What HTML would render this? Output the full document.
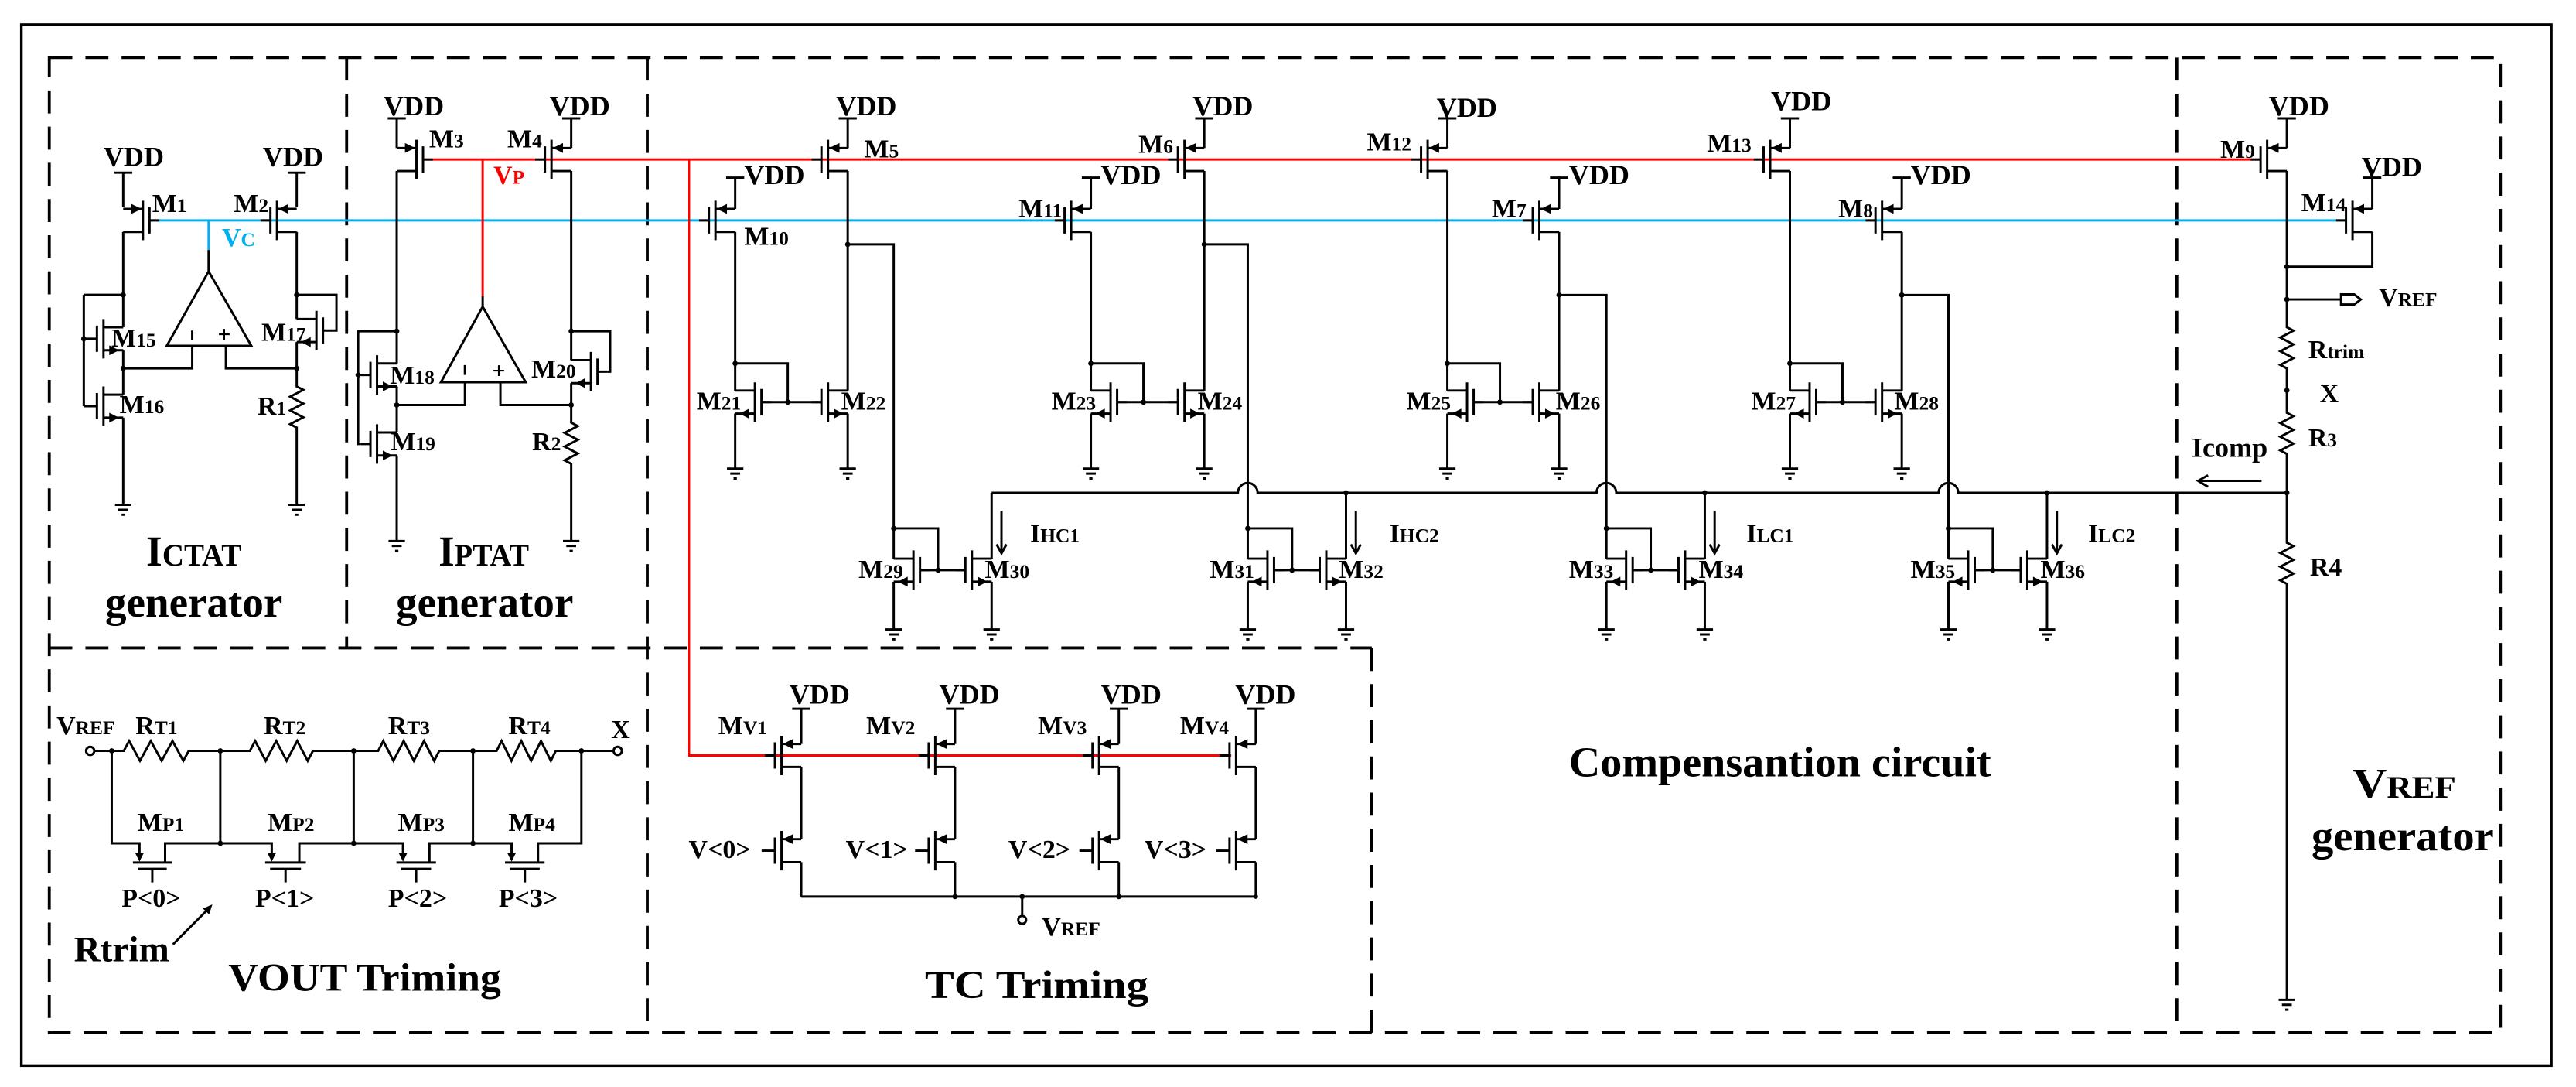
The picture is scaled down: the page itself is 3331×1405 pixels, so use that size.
<!DOCTYPE html>
<html><head><meta charset="utf-8"><style>
html,body{margin:0;padding:0;background:#fff}
svg{display:block}
text{font-family:"Liberation Serif",serif;font-weight:bold;fill:#000}
.s{font-size:12px}
</style></head><body>
<svg width="3331" height="1405" viewBox="0 0 1568 661" preserveAspectRatio="none" xmlns="http://www.w3.org/2000/svg">
<defs>
<g id="P"><path d="M0,-12V12M-4,-8V8M-4,0H-10M0,-7H12M0,7H12" fill="none" stroke="#000" stroke-width="1.4"/><path d="M0.8,-7L7,-10L7,-4Z" fill="#000"/></g>
<g id="N"><path d="M0,-12V12M-4,-8V8M-4,0H-10M0,-7H12M0,7H12" fill="none" stroke="#000" stroke-width="1.4"/><path d="M9.5,7L3.5,4L3.5,10Z" fill="#000"/></g>
<path id="G" d="M-5,0H5M-3,3H3M-1,6H1" fill="none" stroke="#000" stroke-width="1.4"/>
</defs>
<rect x="0" y="0" width="1568" height="661" fill="#fff"/>
<rect x="13" y="15" width="1540" height="633" fill="none" stroke="#000" stroke-width="1.6"/>
<g fill="none" stroke="#000" stroke-width="1.8" stroke-dasharray="14 8">
<path d="M30,35H1522V628H30Z"/>
<path d="M211,35V394M394,35V628M30,394H835M835,394V628M1325,35V628"/>
</g>
<g fill="none" stroke-width="1.4">
<path d="M91,134H1428M127,134V152" stroke="#00b0f0"/>
<path d="M257.5,97H1376M293.8,97V180M419.4,97V459.4H749.5" stroke="#ff0000"/>
</g>
<g fill="none" stroke="#000" stroke-width="1.4">
<path d="M75,126V105M69.5,105H80.5M75,141V199M75,213V240M75,254V307M51,179.3H75M51,179.3V247M51,206H53M51,247H53"/>
<path d="M180.6,126V105M175.1,105H186.1M180.6,141V194M180.6,179.3H204.8V201H202.6M180.6,208V235l4,2.08l-8,4.17l8,4.17l-8,4.17l8,4.17l-8,4.17l4,2.08V307"/>
<path d="M127,152V165M127,165L153,210.3H101.5ZM117,210.3V224H75M137.5,210.3V224H180.6M117,201V207"/>
<path d="M241.5,90V72M236,72H247M241.5,104V221M241.5,201.4H218V270H219.5M218,228H219.5M241.5,235V263M241.5,277V329"/>
<path d="M347.7,90V72M342.2,72H353.2M347.7,104V219M347.7,201.4H371.4V226H369.7M347.7,233V257l4,2.08l-8,4.17l8,4.17l-8,4.17l8,4.17l-8,4.17l4,2.08V329"/>
<path d="M293.8,180V186.5M293.8,186.5L320,232.4H268.4ZM283,232.4V246.3H241.5M304.6,232.4V246.3H347.7M283,222V228"/>
<path d="M516,90V72M510.5,72H521.5M516,104V237.5M447.5,127V108M442,108H453M447.5,141V237.5M447.5,221H479.5V244.5M463.5,244.5H500M447.5,251.5V285M516,251.5V285M516,148.6H544V339.7M544,321.3H571V346.7M560,346.7H587.6M544,353.7V382.8M603.6,353.7V382.8M603.6,339.7V299.7"/>
<path d="M733,90V72M727.5,72H738.5M733,104V237.5M664,127V108M658.5,108H669.5M664,141V237.5M664,221H696V244.5M680,244.5H717M664,251.5V285M733,251.5V285M733,148.6H759.5V339.7M759.5,321.3H786.5V346.7M775.5,346.7H803.3M759.5,353.7V382.8M819.3,353.7V382.8M819.3,339.7V299.7"/>
<path d="M881,90V72M875.5,72H886.5M881,104V237.5M949,127V108M943.5,108H954.5M949,141V237.5M881,221H913V244.5M897,244.5H933M881,251.5V285M949,251.5V285M949,179.4H977.8V339.7M977.8,321.3H1004.8V346.7M993.8,346.7H1021.7M977.8,353.7V382.8M1037.7,353.7V382.8M1037.7,339.7V299.7"/>
<path d="M1089.5,90V72M1084,72H1095M1089.5,104V237.5M1157.6,127V108M1152.1,108H1163.1M1157.6,141V237.5M1089.5,221H1121.5V244.5M1105.5,244.5H1141.6M1089.5,251.5V285M1157.6,251.5V285M1157.6,179.4H1186V339.7M1186,321.3H1213V346.7M1202,346.7H1230M1186,353.7V382.8M1246,353.7V382.8M1246,339.7V299.7"/>
<path d="M603.6,299.7H753.5A6,6 0 0 1 765.5,299.7H971.8A6,6 0 0 1 983.8,299.7H1180A6,6 0 0 1 1192,299.7H1392"/>
<path d="M609.6,310.6V336.5M606.6,331L609.6,336.5L612.6,331"/>
<path d="M825.3,310.6V336.5M822.3,331L825.3,336.5L828.3,331"/>
<path d="M1043.7,310.6V336.5M1040.7,331L1043.7,336.5L1046.7,331"/>
<path d="M1252,310.6V336.5M1249,331L1252,336.5L1255,331"/>
<path d="M1392,90V72M1386.5,72H1397.5M1392,104V199l4,2.08l-8,4.17l8,4.17l-8,4.17l8,4.17l-8,4.17l4,2.08V251l4,2.08l-8,4.17l8,4.17l-8,4.17l8,4.17l-8,4.17l4,2.08V330l4,2.08l-8,4.17l8,4.17l-8,4.17l8,4.17l-8,4.17l4,2.08V608"/>
<path d="M1444,127V108M1438.5,108H1449.5M1444,141V162.2H1392M1392,182.1H1425M1425,179H1433L1437,182.1L1433,185.2H1425Z"/>
<path d="M1376.6,292.4H1338M1344,289L1338,292.4L1344,296"/>
<path d="M487.7,452.4V431M482.2,431H493.2M487.7,466.4V510.3M487.7,524.3V545.2
M581.3,452.4V431M575.8,431H586.8M581.3,466.4V510.3M581.3,524.3V545.2
M681,452.4V431M675.5,431H686.5M681,466.4V510.3M681,524.3V545.2
M764.4,452.4V431M758.9,431H769.9M764.4,466.4V510.3M764.4,524.3V545.2
M487.7,545.2H764.4M622.2,545.2V557M463.6,517.3H466M557,517.3H560M657,517.3H660M740,517.3H743"/>
<circle cx="622.2" cy="559.4" r="2.4"/>
<circle cx="54.9" cy="456.6" r="2.5"/>
<circle cx="376" cy="456.6" r="2.5"/>
<path d="M57.4,456.6H75.3l3.3,-6l6.6,12l6.6,-12l6.6,12l6.6,-12l6.6,12l3.3,-6H152.1l3.2,-6l6.4,12l6.4,-12l6.4,12l6.4,-12l6.4,12l3.2,-6H230.2l3.1,-6l6.2,12l6.2,-12l6.2,12l6.2,-12l6.2,12l3.1,-6H302.3l3,-6l6,12l6,-12l6,12l6,-12l6,12l3,-6H373.5"/>
<path d="M68,456.6V512.8H84.9V520M100.5,524.5V512.8H165.4V520M134.1,456.6V512.8M182.2,524.5V512.8H245.3V520M215.3,456.6V512.8M261.4,524.5V512.8H311.4V520M287.9,456.6V512.8M327.5,524.5V512.8H353.9V456.6"/>
<path d="M80.9,524.5H104.5M83.9,528.4H101.5M92.7,528.4V536.6M161.4,524.5H186.2M164.4,528.4H183.2M173.8,528.4V536.6M241.3,524.5H265.4M244.3,528.4H262.4M253.3,528.4V536.6M307.4,524.5H331.5M310.4,528.4H328.5M319.5,528.4V536.6"/>
<path d="M105.3,574.3L128,551.5"/>
</g>
<g fill="#000">
<path d="M84.9,524L82.2,518.5H87.6Z"/><path d="M165.4,524L162.7,518.5H168.1Z"/><path d="M245.3,524L242.6,518.5H248Z"/><path d="M311.4,524L308.7,518.5H314.1Z"/>
<path d="M129.3,550L123.5,552.5L127.3,556Z"/>
</g>
<use href="#P" transform="translate(87,134) scale(-1,1)"/>
<use href="#P" transform="translate(168.6,134)"/>
<use href="#N" transform="translate(63,206)"/>
<use href="#N" transform="translate(63,247)"/>
<use href="#N" transform="translate(192.6,201) scale(-1,1)"/>
<use href="#P" transform="translate(253.5,97) scale(-1,1)"/>
<use href="#P" transform="translate(335.7,97)"/>
<use href="#N" transform="translate(229.5,228)"/>
<use href="#N" transform="translate(229.5,270)"/>
<use href="#N" transform="translate(359.7,226) scale(-1,1)"/>
<use href="#P" transform="translate(504,97)"/>
<use href="#P" transform="translate(435.5,134)"/>
<use href="#N" transform="translate(459.5,244.5) scale(-1,1)"/>
<use href="#N" transform="translate(504,244.5)"/>
<use href="#N" transform="translate(556,346.7) scale(-1,1)"/>
<use href="#N" transform="translate(591.6,346.7)"/>
<use href="#P" transform="translate(721,97)"/>
<use href="#P" transform="translate(652,134)"/>
<use href="#N" transform="translate(676,244.5) scale(-1,1)"/>
<use href="#N" transform="translate(721,244.5)"/>
<use href="#N" transform="translate(771.5,346.7) scale(-1,1)"/>
<use href="#N" transform="translate(807.3,346.7)"/>
<use href="#P" transform="translate(869,97)"/>
<use href="#P" transform="translate(937,134)"/>
<use href="#N" transform="translate(893,244.5) scale(-1,1)"/>
<use href="#N" transform="translate(937,244.5)"/>
<use href="#N" transform="translate(989.8,346.7) scale(-1,1)"/>
<use href="#N" transform="translate(1025.7,346.7)"/>
<use href="#P" transform="translate(1077.5,97)"/>
<use href="#P" transform="translate(1145.6,134)"/>
<use href="#N" transform="translate(1101.5,244.5) scale(-1,1)"/>
<use href="#N" transform="translate(1145.6,244.5)"/>
<use href="#N" transform="translate(1198,346.7) scale(-1,1)"/>
<use href="#N" transform="translate(1234,346.7)"/>
<use href="#P" transform="translate(1380,97)"/>
<use href="#P" transform="translate(1432,134)"/>
<use href="#P" transform="translate(475.7,459.4)"/>
<use href="#P" transform="translate(569.3,459.4)"/>
<use href="#P" transform="translate(669,459.4)"/>
<use href="#P" transform="translate(752.4,459.4)"/>
<use href="#P" transform="translate(475.7,517.3)"/>
<use href="#P" transform="translate(569.3,517.3)"/>
<use href="#P" transform="translate(669,517.3)"/>
<use href="#P" transform="translate(752.4,517.3)"/>
<use href="#G" x="75" y="307"/><use href="#G" x="180.6" y="307"/>
<use href="#G" x="241.5" y="329"/><use href="#G" x="347.7" y="329"/>
<use href="#G" x="447.5" y="285"/><use href="#G" x="516" y="285"/><use href="#G" x="544" y="382.8"/><use href="#G" x="603.6" y="382.8"/>
<use href="#G" x="664" y="285"/><use href="#G" x="733" y="285"/><use href="#G" x="759.5" y="382.8"/><use href="#G" x="819.3" y="382.8"/>
<use href="#G" x="881" y="285"/><use href="#G" x="949" y="285"/><use href="#G" x="977.8" y="382.8"/><use href="#G" x="1037.7" y="382.8"/>
<use href="#G" x="1089.5" y="285"/><use href="#G" x="1157.6" y="285"/><use href="#G" x="1186" y="382.8"/><use href="#G" x="1246" y="382.8"/>
<use href="#G" x="1392" y="608"/>
<g fill="#000">
<circle cx="75" cy="179.3" r="1.6"/><circle cx="51" cy="206" r="1.6"/><circle cx="75" cy="224" r="1.6"/><circle cx="180.6" cy="179.3" r="1.6"/><circle cx="180.6" cy="224" r="1.6"/>
<circle cx="241.5" cy="201.4" r="1.6"/><circle cx="218" cy="228" r="1.6"/><circle cx="241.5" cy="246.3" r="1.6"/><circle cx="347.7" cy="201.4" r="1.6"/><circle cx="347.7" cy="246.3" r="1.6"/>
<circle cx="447.5" cy="221" r="1.6"/><circle cx="479.5" cy="244.5" r="1.6"/><circle cx="516" cy="148.6" r="1.6"/><circle cx="544" cy="321.3" r="1.6"/><circle cx="571" cy="346.7" r="1.6"/>
<circle cx="664" cy="221" r="1.6"/><circle cx="696" cy="244.5" r="1.6"/><circle cx="733" cy="148.6" r="1.6"/><circle cx="759.5" cy="321.3" r="1.6"/><circle cx="786.5" cy="346.7" r="1.6"/><circle cx="819.3" cy="299.7" r="1.6"/>
<circle cx="881" cy="221" r="1.6"/><circle cx="913" cy="244.5" r="1.6"/><circle cx="949" cy="179.4" r="1.6"/><circle cx="977.8" cy="321.3" r="1.6"/><circle cx="1004.8" cy="346.7" r="1.6"/><circle cx="1037.7" cy="299.7" r="1.6"/>
<circle cx="1089.5" cy="221" r="1.6"/><circle cx="1121.5" cy="244.5" r="1.6"/><circle cx="1157.6" cy="179.4" r="1.6"/><circle cx="1186" cy="321.3" r="1.6"/><circle cx="1213" cy="346.7" r="1.6"/><circle cx="1246" cy="299.7" r="1.6"/>
<circle cx="1392" cy="162.2" r="1.6"/><circle cx="1392" cy="182.1" r="1.6"/><circle cx="1392" cy="237.4" r="1.6"/><circle cx="1392" cy="299.7" r="1.6"/>
<circle cx="581.3" cy="545.2" r="1.6"/><circle cx="681" cy="545.2" r="1.6"/><circle cx="622.2" cy="545.2" r="1.6"/><circle cx="764.4" cy="545.2" r="1.4"/>
<circle cx="68" cy="456.6" r="1.6"/><circle cx="134.1" cy="456.6" r="1.6"/><circle cx="215.3" cy="456.6" r="1.6"/><circle cx="287.9" cy="456.6" r="1.6"/><circle cx="353.9" cy="456.6" r="1.6"/>
<circle cx="134.1" cy="512.8" r="1.6"/><circle cx="215.3" cy="512.8" r="1.6"/><circle cx="287.9" cy="512.8" r="1.6"/>
</g>
<g font-size="17">
<text x="63" y="101">VDD</text><text x="160" y="101">VDD</text>
<text x="233.5" y="70">VDD</text><text x="334.5" y="70">VDD</text>
<text x="509" y="70">VDD</text><text x="726" y="70">VDD</text><text x="874.5" y="71">VDD</text><text x="1078" y="67">VDD</text><text x="1381" y="70">VDD</text>
<text x="453" y="112">VDD</text><text x="670" y="112">VDD</text><text x="955" y="112">VDD</text><text x="1163" y="112">VDD</text><text x="1437.5" y="107">VDD</text>
<text x="480.5" y="428">VDD</text><text x="571.7" y="428">VDD</text><text x="670.2" y="428">VDD</text><text x="751.9" y="428">VDD</text>
</g>
<g font-size="16">
<text x="92.6" y="129">M<tspan class="s">1</tspan></text>
<text x="142.3" y="129">M<tspan class="s">2</tspan></text>
<text x="261.2" y="89.6">M<tspan class="s">3</tspan></text>
<text x="308.8" y="89.6">M<tspan class="s">4</tspan></text>
<text x="526" y="95.7">M<tspan class="s">5</tspan></text>
<text x="693" y="93">M<tspan class="s">6</tspan></text>
<text x="908" y="132">M<tspan class="s">7</tspan></text>
<text x="1119" y="132">M<tspan class="s">8</tspan></text>
<text x="1351.5" y="96">M<tspan class="s">9</tspan></text>
<text x="453" y="149">M<tspan class="s">10</tspan></text>
<text x="620" y="132">M<tspan class="s">11</tspan></text>
<text x="832" y="91.5">M<tspan class="s">12</tspan></text>
<text x="1039" y="92.3">M<tspan class="s">13</tspan></text>
<text x="1400.8" y="128.5">M<tspan class="s">14</tspan></text>
<text x="67.8" y="210.8">M<tspan class="s">15</tspan></text>
<text x="72.8" y="251.3">M<tspan class="s">16</tspan></text>
<text x="159.1" y="207.2">M<tspan class="s">17</tspan></text>
<text x="237.4" y="233.3">M<tspan class="s">18</tspan></text>
<text x="237.9" y="273.8">M<tspan class="s">19</tspan></text>
<text x="323.4" y="229.7">M<tspan class="s">20</tspan></text>
<text x="156.7" y="252.2">R<tspan class="s">1</tspan></text>
<text x="323.9" y="273.8">R<tspan class="s">2</tspan></text>
<text x="424" y="249">M<tspan class="s">21</tspan></text>
<text x="512" y="249">M<tspan class="s">22</tspan></text>
<text x="640" y="249">M<tspan class="s">23</tspan></text>
<text x="729" y="249">M<tspan class="s">24</tspan></text>
<text x="856" y="249">M<tspan class="s">25</tspan></text>
<text x="947" y="249">M<tspan class="s">26</tspan></text>
<text x="1066" y="249">M<tspan class="s">27</tspan></text>
<text x="1153" y="249">M<tspan class="s">28</tspan></text>
<text x="522.6" y="351.4">M<tspan class="s">29</tspan></text>
<text x="599.5" y="351.4">M<tspan class="s">30</tspan></text>
<text x="736.4" y="351.4">M<tspan class="s">31</tspan></text>
<text x="815" y="351.4">M<tspan class="s">32</tspan></text>
<text x="955" y="351.4">M<tspan class="s">33</tspan></text>
<text x="1034" y="351.4">M<tspan class="s">34</tspan></text>
<text x="1163" y="351.4">M<tspan class="s">35</tspan></text>
<text x="1242" y="351.4">M<tspan class="s">36</tspan></text>
<text x="627" y="329.5">I<tspan class="s">HC1</tspan></text>
<text x="845.7" y="329.5">I<tspan class="s">HC2</tspan></text>
<text x="1063" y="329.5">I<tspan class="s">LC1</tspan></text>
<text x="1271" y="329.5">I<tspan class="s">LC2</tspan></text>
<text x="135.1" y="149.6" style="fill:#00b0f0">V<tspan class="s">C</tspan></text>
<text x="300.4" y="111.7" style="fill:#ff0000">V<tspan class="s">P</tspan></text>
<text x="1448" y="186">V<tspan class="s">REF</tspan></text>
<text x="1405" y="217.8">R<tspan class="s">trim</tspan></text>
<text x="1412" y="244.5">X</text>
<text x="1405" y="271.4">R<tspan class="s">3</tspan></text>
<text x="1406" y="350">R4</text>
<text x="1334" y="277.7" font-size="17">Icomp</text>
<text x="437.2" y="446.4">M<tspan class="s">V1</tspan></text>
<text x="527.3" y="446.4">M<tspan class="s">V2</tspan></text>
<text x="631.8" y="446.4">M<tspan class="s">V3</tspan></text>
<text x="718.3" y="446.4">M<tspan class="s">V4</tspan></text>
<text x="419.2" y="521.7">V&lt;0&gt;</text>
<text x="514.8" y="521.7">V&lt;1&gt;</text>
<text x="613.8" y="521.7">V&lt;2&gt;</text>
<text x="696.6" y="521.7">V&lt;3&gt;</text>
<text x="634.2" y="568.8">V<tspan class="s">REF</tspan></text>
<text x="34.4" y="446.4">V<tspan class="s">REF</tspan></text>
<text x="82.5" y="446.4">R<tspan class="s">T1</tspan></text>
<text x="160.5" y="446.4">R<tspan class="s">T2</tspan></text>
<text x="236.2" y="446.4">R<tspan class="s">T3</tspan></text>
<text x="309.5" y="446.4">R<tspan class="s">T4</tspan></text>
<text x="372" y="448.8">X</text>
<text x="83.7" y="505.2">M<tspan class="s">P1</tspan></text>
<text x="162.9" y="505.2">M<tspan class="s">P2</tspan></text>
<text x="242.2" y="505.2">M<tspan class="s">P3</tspan></text>
<text x="309.5" y="505.2">M<tspan class="s">P4</tspan></text>
<text x="74" y="551.5">P&lt;0&gt;</text>
<text x="155.3" y="551.5">P&lt;1&gt;</text>
<text x="236.2" y="551.5">P&lt;2&gt;</text>
<text x="303.5" y="551.5">P&lt;3&gt;</text>
</g>
<text x="132.5" y="208" font-size="14">+</text>
<text x="299.6" y="230" font-size="14">+</text>
<g font-size="26">
<text x="89" y="344" textLength="58" lengthAdjust="spacingAndGlyphs">I<tspan font-size="19">CTAT</tspan></text>
<text x="64" y="375" textLength="108" lengthAdjust="spacingAndGlyphs">generator</text>
<text x="267" y="344" textLength="55" lengthAdjust="spacingAndGlyphs">I<tspan font-size="19">PTAT</tspan></text>
<text x="241" y="375" textLength="108" lengthAdjust="spacingAndGlyphs">generator</text>
<text x="955" y="472" textLength="257" lengthAdjust="spacingAndGlyphs">Compensantion circuit</text>
<text x="1432" y="485" textLength="63" lengthAdjust="spacingAndGlyphs">V<tspan font-size="19">REF</tspan></text>
<text x="1407" y="517" textLength="111" lengthAdjust="spacingAndGlyphs">generator</text>
<text x="139" y="602.5" font-size="24" textLength="166" lengthAdjust="spacingAndGlyphs">VOUT Triming</text>
<text x="563" y="607" font-size="24" textLength="136" lengthAdjust="spacingAndGlyphs">TC Triming</text>
<text x="45" y="584.5" font-size="22" textLength="58" lengthAdjust="spacingAndGlyphs">Rtrim</text>
</g>
</svg>
</body></html>
